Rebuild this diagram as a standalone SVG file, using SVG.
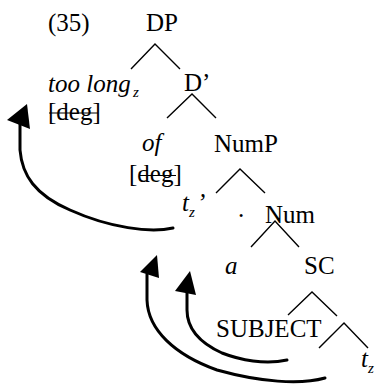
<svg xmlns="http://www.w3.org/2000/svg" width="378" height="388" viewBox="0 0 378 388">
<style>
text{font-family:"Liberation Serif","Times New Roman",serif;font-size:25px;fill:#000}
.i{font-style:italic}
.sub{font-size:15px;font-style:italic}
.br{stroke:#000;stroke-width:1.4;fill:none}
.mv{stroke:#000;stroke-width:3;fill:none;stroke-linecap:round}
.hd{fill:#000}
.st{stroke:#000;stroke-width:1.2}
</style>
<rect width="378" height="388" fill="#fff"/>
<g id="label35"><text x="48" y="31">(35)</text></g>
<g id="DP"><text x="146" y="31">DP</text></g>
<g id="toolong"><text x="48" y="92" class="i">too long</text><text x="133" y="97" class="sub">z</text>
<text x="48" y="120">[deg]</text><line class="st" x1="49" y1="113" x2="98" y2="113"/></g>
<g id="Dbar"><text x="184" y="91">D’</text></g>
<g id="of"><text x="142" y="151" class="i">of</text>
<text x="129" y="182">[deg]</text><line class="st" x1="139" y1="175.5" x2="176" y2="175.5"/></g>
<g id="NumP"><text x="214" y="152">NumP</text></g>
<g id="tz1"><text x="182" y="211" class="i">t</text><text x="189" y="217" class="sub">z</text><text x="197" y="211" class="i">’</text></g>
<g id="dot"><text x="238" y="217">.</text></g>
<g id="Num"><text x="265" y="223">Num</text></g>
<g id="a"><text x="225" y="274" class="i">a</text></g>
<g id="SC"><text x="304" y="274">SC</text></g>
<g id="SUBJECT"><text x="216" y="337">SUBJECT</text></g>
<g id="tz2"><text x="361" y="367" class="i">t</text><text x="368" y="373" class="sub">z</text></g>
<g id="connectors">
<polyline class="br" points="131,69 155,44 180,69"/>
<polyline class="br" points="167,118 192,94 216,118"/>
<polyline class="br" points="216,193 240,169 265,193"/>
<polyline class="br" points="251,247 275,221 299,247"/>
<polyline class="br" points="288,315 312,292 337,316"/>
<polyline class="br" points="319,348 344,323 368,348"/>
<path class="mv" d="M173,228 C150,233 110,228 70,210 C35,195 22,175 20,150 L20,124"/>
<polygon class="hd" points="27,104 7,120 30,129"/>
<path class="mv" d="M325,378 C300,385 260,382 217,370 C175,355 148,330 147,300 L147,274"/>
<polygon class="hd" points="157,255 140,272 159,278"/>
<path class="mv" d="M287,360 C265,365 240,360 222,353 C200,343 187,330 187,310 L187,290"/>
<polygon class="hd" points="190,271 175,291 196,295"/>
</g>
</svg>
